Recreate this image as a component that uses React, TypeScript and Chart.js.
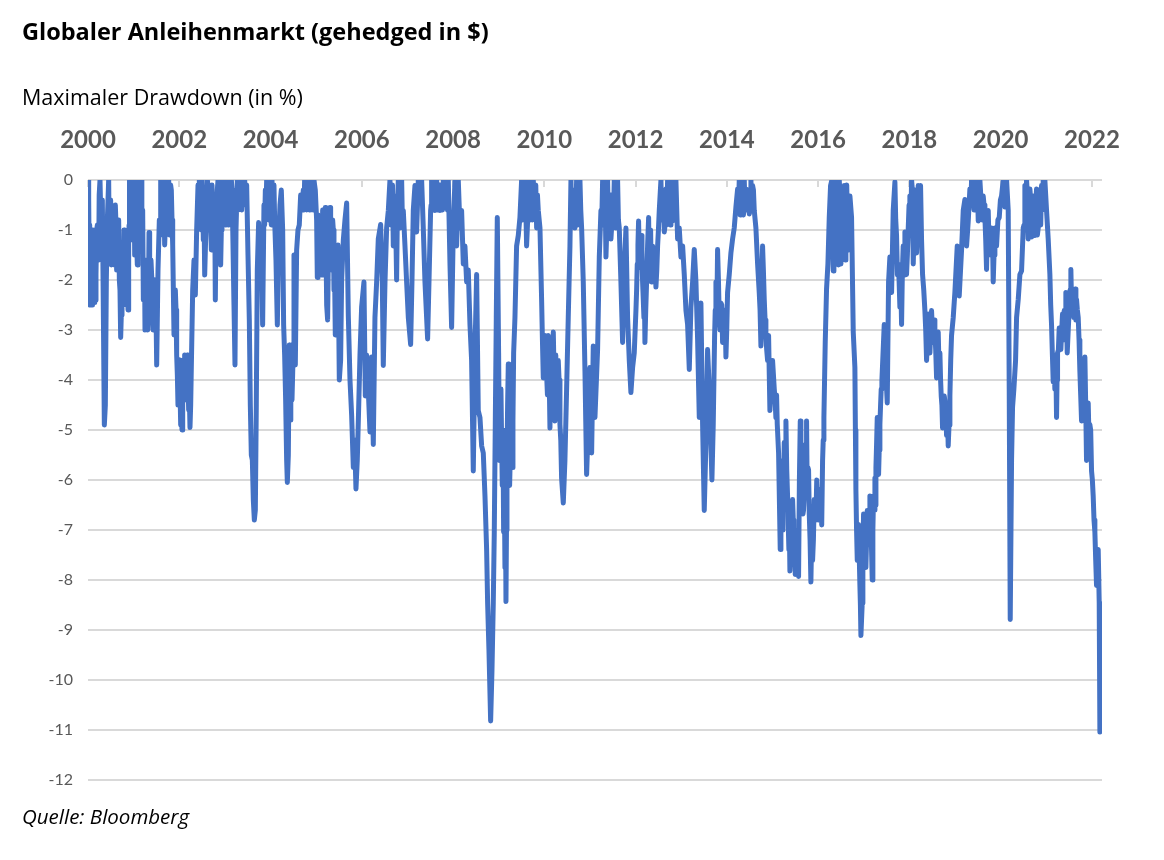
import React, { useEffect, useRef } from "react";
import { Chart, registerables } from "chart.js";

Chart.register(...registerables);

const TITLE = "Globaler Anleihenmarkt (gehedged in $)";
const SUBTITLE = "Maximaler Drawdown (in %)";
const SOURCE = "Quelle: Bloomberg";

const yearTicks = [2000, 2002, 2004, 2006, 2008, 2010, 2012, 2014, 2016, 2018, 2020, 2022];
const valueTicks = [0, -1, -2, -3, -4, -5, -6, -7, -8, -9, -10, -11, -12];

// 2000 - mid 2005
const datesA = [
  2000.000, 2000.037, 2000.051, 2000.066, 2000.088, 2000.110, 2000.132, 2000.153, 2000.175, 2000.205,
  2000.234, 2000.263, 2000.292, 2000.314, 2000.336, 2000.358, 2000.380, 2000.402, 2000.424, 2000.453,
  2000.482, 2000.511, 2000.541, 2000.570, 2000.599, 2000.628, 2000.658, 2000.687, 2000.716, 2000.745,
  2000.774, 2000.804, 2000.833, 2000.862, 2000.891, 2000.921, 2000.942, 2000.972, 2000.993, 2001.023,
  2001.052, 2001.081, 2001.110, 2001.140, 2001.169, 2001.198, 2001.227, 2001.249, 2001.278, 2001.308,
  2001.337, 2001.366, 2001.395, 2001.425, 2001.454, 2001.483, 2001.505, 2001.534, 2001.563, 2001.593,
  2001.622, 2001.651, 2001.680, 2001.709, 2001.739, 2001.768, 2001.797, 2001.826, 2001.856, 2001.885,
  2001.914, 2001.943, 2001.972, 2002.002, 2002.031, 2002.060, 2002.089, 2002.118, 2002.148, 2002.177,
  2002.206, 2002.235, 2002.265, 2002.294, 2002.323, 2002.352, 2002.381, 2002.411, 2002.440, 2002.469,
  2002.498, 2002.527, 2002.557, 2002.586, 2002.615, 2002.644, 2002.673, 2002.703, 2002.732, 2002.761,
  2002.790, 2002.820, 2002.849, 2002.878, 2002.907, 2002.936, 2002.966, 2002.995, 2003.024, 2003.053,
  2003.082, 2003.112, 2003.141, 2003.170, 2003.199, 2003.221, 2003.243, 2003.272, 2003.309, 2003.345,
  2003.389, 2003.433, 2003.477, 2003.506, 2003.535, 2003.557, 2003.579, 2003.601, 2003.623, 2003.645,
  2003.667, 2003.688, 2003.710, 2003.739, 2003.769, 2003.798, 2003.827, 2003.856, 2003.886, 2003.915,
  2003.944, 2003.973, 2004.002, 2004.032, 2004.061, 2004.090, 2004.119, 2004.149, 2004.178, 2004.207,
  2004.236, 2004.266, 2004.287, 2004.309, 2004.331, 2004.353, 2004.368, 2004.390, 2004.411, 2004.433,
  2004.455, 2004.484, 2004.514, 2004.543, 2004.572, 2004.601, 2004.630, 2004.660, 2004.689, 2004.718,
  2004.747, 2004.777, 2004.806, 2004.835, 2004.864, 2004.893, 2004.923, 2004.952, 2004.981, 2005.010,
  2005.025, 2005.054, 2005.083, 2005.113, 2005.142, 2005.171, 2005.200, 2005.230, 2005.251, 2005.273,
  2005.303, 2005.332, 2005.361, 2005.390, 2005.419, 2005.449, 2005.478, 2005.507, 2005.536,
];
const drawdownA = [
  0, -0.9, -1.4, -2.4, -2.5, -1.5, -2.45, -1.0, -1.9, -0.9,
  -1.6, 0, -1.2, -0.4, -2.6, -4.9, -4.5, -2.0, -0.8, 0,
  -0.5, -1.7, -0.8, -1.6, -0.5, -1.8, -1.0, -2.0, -3.15, -1.3,
  -2.5, -1.3, -2.5, -1.9, -1.2, -0.2, 0, -1.2, 0, -1.5,
  -0.3, -1.7, 0, -1.0, 0, -0.6, -1.7, -3.0, -2.1, -3.0,
  -1.05, -2.6, -1.9, -3.0, -2.0, -2.6, -3.7, -1.8, -0.8, 0,
  -0.9, 0, -1.3, 0, -0.6, 0, -0.9, -0.2, -1.3, -3.1,
  -2.2, -3.5, -4.5, -3.6, -4.9, -5.0, -3.6, -3.5, -4.4, -3.5,
  -4.6, -4.95, -3.7, -2.2, -1.6, -2.3, -1.0, -0.1, 0, -0.8,
  0, -1.2, -1.9, -0.9, 0, -1.0, -0.3, -1.4, -0.5, -1.2,
  -2.4, -0.6, 0, -1.2, -1.7, -0.3, 0, -0.8, -0.2, -0.8,
  0, -0.6, 0, -0.9, -2.5, -3.7, -1.0, 0, -0.5, 0,
  -0.2, 0, -0.1, -1.5, -2.8, -4.5, -5.5, -5.6, -6.4, -6.8,
  -6.6, -4.5, -1.8, -0.85, -1.5, -1.0, -2.9, -0.5, -0.2, 0,
  -0.3, 0, -0.5, 0, -0.4, -0.8, -1.6, -2.9, -1.2, -0.5,
  -0.2, -1.0, -2.9, -3.5, -4.4, -5.6, -6.05, -5.5, -3.3, -4.8,
  -3.3, -3.9, -1.5, -3.7, -1.4, -1.0, -0.9, -0.3, -0.6, -0.2,
  0, -0.1, -0.2, 0, -0.3, 0, -0.4, 0, -0.2, -0.8,
  -1.95, -1.3, -0.8, -1.9, -0.6, -1.9, -0.55, -2.5, -2.8, -1.0,
  -0.55, -1.8, -0.8, -2.2, -3.1, -2.5, -1.3, -4.0, -3.6,
];

// mid 2005 - early 2011
const datesB = [
  2005.558, 2005.595, 2005.631, 2005.668, 2005.704, 2005.741, 2005.777, 2005.814, 2005.843, 2005.872,
  2005.901, 2005.930, 2005.960, 2005.996, 2006.047, 2006.077, 2006.106, 2006.142, 2006.179, 2006.215,
  2006.252, 2006.288, 2006.325, 2006.361, 2006.413, 2006.449, 2006.471, 2006.508, 2006.544, 2006.581,
  2006.617, 2006.654, 2006.690, 2006.727, 2006.763, 2006.800, 2006.836, 2006.873, 2006.909, 2006.946,
  2006.982, 2007.019, 2007.070, 2007.099, 2007.128, 2007.165, 2007.201, 2007.238, 2007.274, 2007.311,
  2007.347, 2007.384, 2007.420, 2007.442, 2007.472, 2007.508, 2007.530, 2007.567, 2007.603, 2007.640,
  2007.676, 2007.713, 2007.750, 2007.786, 2007.822, 2007.859, 2007.895, 2007.932, 2007.968, 2008.005,
  2008.041, 2008.078, 2008.114, 2008.151, 2008.187, 2008.224, 2008.260, 2008.297, 2008.333, 2008.370,
  2008.406, 2008.443, 2008.479, 2008.516, 2008.552, 2008.589, 2008.626, 2008.662, 2008.699, 2008.735,
  2008.757, 2008.786, 2008.823, 2008.852, 2008.881, 2008.903, 2008.925, 2008.947, 2008.969, 2008.998,
  2009.020, 2009.049, 2009.078, 2009.108, 2009.137, 2009.159, 2009.181, 2009.210, 2009.239, 2009.268,
  2009.297, 2009.327, 2009.356, 2009.392, 2009.429, 2009.465, 2009.502, 2009.538, 2009.575, 2009.611,
  2009.648, 2009.684, 2009.721, 2009.757, 2009.794, 2009.831, 2009.867, 2009.904, 2009.940, 2009.977,
  2010.013, 2010.050, 2010.086, 2010.123, 2010.159, 2010.196, 2010.232, 2010.269, 2010.305, 2010.342,
  2010.378, 2010.415, 2010.451, 2010.488, 2010.524, 2010.561, 2010.583, 2010.634, 2010.670, 2010.707,
  2010.744, 2010.780, 2010.817, 2010.853, 2010.890, 2010.926, 2010.963, 2010.999, 2011.036, 2011.072,
  2011.109,
];
const drawdownB = [
  -2.0, -1.2, -0.8, -0.46, -2.7, -4.0, -4.7, -5.75, -5.2, -6.18,
  -5.6, -4.6, -3.5, -2.54, -2.04, -4.32, -3.5, -4.2, -5.04, -3.54,
  -5.29, -2.75, -2.04, -1.18, -0.89, -2.04, -3.71, -2.04, -0.96, -0.61,
  0, -0.4, -1.32, -0.32, -2.0, 0, -0.96, 0, -0.61, -1.32,
  -2.04, -2.75, -3.29, -2.04, -0.61, -0.11, -1.04, 0, -0.25, 0,
  -0.96, -2.04, -2.75, -3.18, -2.04, -0.61, 0, -0.3, -0.61, 0,
  -0.3, -0.61, -0.2, 0, -0.3, -0.46, 0, -1.68, -2.95, -0.96,
  0, -1.32, 0, -0.96, -0.61, -1.68, -1.32, -2.04, -1.8, -2.89,
  -3.61, -5.82, -3.46, -1.89, -4.61, -4.75, -5.32, -5.46, -6.32, -7.39,
  -8.46, -9.39, -10.82, -9.82, -8.46, -7.04, -4.89, -2.75, -0.75, -3.46,
  -5.61, -4.18, -6.11, -7.04, -7.75, -8.43, -5.61, -3.68, -6.11, -4.89,
  -5.75, -3.46, -2.75, -1.32, -1.11, -0.75, 0, -0.32, 0, -1.32,
  -0.46, 0, -0.39, 0, -0.61, -0.96, -0.61, -0.96, -2.39, -3.96,
  -3.11, -3.89, -3.11, -4.96, -4.04, -3.04, -4.82, -4.18, -3.61, -4.89,
  -5.96, -6.46, -5.61, -4.18, -2.75, -1.32, 0, -0.61, -0.96, 0,
  -0.61, 0, -0.96, -2.04, -3.82, -5.89, -4.89, -3.75, -5.46, -3.32,
  -4.75,
];

// early 2011 - mid 2016
const datesC = [
  2011.167, 2011.204, 2011.240, 2011.277, 2011.313, 2011.350, 2011.386, 2011.423, 2011.459, 2011.496,
  2011.532, 2011.569, 2011.605, 2011.642, 2011.678, 2011.715, 2011.751, 2011.788, 2011.824, 2011.861,
  2011.897, 2011.934, 2011.970, 2012.007, 2012.036, 2012.065, 2012.095, 2012.124, 2012.153, 2012.182,
  2012.204, 2012.241, 2012.285, 2012.314, 2012.343, 2012.372, 2012.409, 2012.445, 2012.482, 2012.518,
  2012.555, 2012.591, 2012.628, 2012.664, 2012.701, 2012.737, 2012.774, 2012.810, 2012.847, 2012.883,
  2012.920, 2012.956, 2012.993, 2013.030, 2013.066, 2013.103, 2013.139, 2013.176, 2013.212, 2013.249,
  2013.285, 2013.322, 2013.358, 2013.395, 2013.431, 2013.468, 2013.504, 2013.541, 2013.577, 2013.614,
  2013.643, 2013.672, 2013.701, 2013.731, 2013.760, 2013.796, 2013.833, 2013.869, 2013.906, 2013.942,
  2013.979, 2014.015, 2014.052, 2014.088, 2014.125, 2014.161, 2014.198, 2014.235, 2014.271, 2014.308,
  2014.344, 2014.381, 2014.417, 2014.454, 2014.490, 2014.527, 2014.563, 2014.600, 2014.636, 2014.673,
  2014.709, 2014.746, 2014.782, 2014.819, 2014.855, 2014.892, 2014.914, 2014.943, 2014.972, 2015.001,
  2015.038, 2015.074, 2015.104, 2015.133, 2015.169, 2015.199, 2015.228, 2015.257, 2015.294, 2015.330,
  2015.359, 2015.381, 2015.410, 2015.440, 2015.469, 2015.498, 2015.535, 2015.571, 2015.608, 2015.637,
  2015.666, 2015.695, 2015.724, 2015.746, 2015.775, 2015.805, 2015.841, 2015.878, 2015.914, 2015.951,
  2015.987, 2016.024, 2016.060, 2016.097, 2016.126, 2016.155, 2016.184, 2016.214, 2016.243, 2016.272,
  2016.301, 2016.331, 2016.360, 2016.389, 2016.426, 2016.462, 2016.499, 2016.535, 2016.572, 2016.608,
  2016.645,
];
const drawdownC = [
  -3.39, -1.54, -0.61, 0, -0.75, -1.54, 0, -0.61, -1.18, -0.32,
  0, -0.96, 0, -0.96, -2.04, -3.25, -1.82, -0.96, -2.75, -3.61,
  -4.25, -3.75, -3.46, -2.61, -1.68, -0.82, -1.75, -1.11, -2.04, -2.75,
  -3.25, -2.04, -0.75, -1.46, -2.04, -1.32, -1.89, -2.14, -1.32, -0.61,
  0, -0.61, -1.04, -0.18, 0, -0.32, 0, -0.82, -0.61, 0,
  -1.18, -0.96, -1.54, -1.32, -1.89, -2.61, -2.89, -3.79, -2.54, -2.04,
  -1.39, -2.04, -3.18, -4.75, -2.46, -4.89, -6.61, -5.25, -3.39, -4.18,
  -5.04, -6.0, -4.89, -3.11, -2.04, -1.39, -2.75, -2.46, -3.25, -2.75,
  -3.54, -2.25, -1.89, -1.46, -1.18, -0.96, -0.54, -0.18, 0, -0.32,
  -0.61, 0, -0.18, -0.61, -0.68, 0, -0.11, -0.61, -0.96, -1.68,
  -2.25, -3.32, -1.32, -2.39, -3.11, -3.61, -3.11, -4.61, -3.89, -3.61,
  -4.18, -4.75, -4.89, -5.46, -7.39, -6.32, -5.61, -5.25, -4.82, -6.32,
  -7.39, -7.82, -7.04, -6.39, -7.39, -7.89, -7.04, -7.93, -4.82, -5.96,
  -6.68, -6.32, -5.61, -4.82, -5.75, -6.68, -8.04, -7.61, -6.39, -6.75,
  -6.54, -6.32, -6.18, -5.61, -4.75, -3.25, -2.18, -1.68, -0.75, -0.11,
  0, -1.82, -0.61, 0, -0.61, 0, -1.68, -0.96, -0.11, -0.61,
  -0.96,
];

// mid 2016 - 2022
const datesD = [
  2016.696, 2016.732, 2016.769, 2016.805, 2016.827, 2016.857, 2016.886, 2016.915, 2016.937, 2016.966,
  2016.995, 2017.025, 2017.046, 2017.076, 2017.105, 2017.134, 2017.156, 2017.185, 2017.214, 2017.244,
  2017.266, 2017.295, 2017.324, 2017.353, 2017.382, 2017.412, 2017.448, 2017.485, 2017.514, 2017.543,
  2017.572, 2017.609, 2017.645, 2017.682, 2017.718, 2017.755, 2017.791, 2017.828, 2017.864, 2017.901,
  2017.937, 2017.974, 2018.010, 2018.047, 2018.084, 2018.120, 2018.157, 2018.193, 2018.244, 2018.288,
  2018.339, 2018.376, 2018.412, 2018.449, 2018.485, 2018.522, 2018.558, 2018.595, 2018.631, 2018.668,
  2018.697, 2018.726, 2018.763, 2018.814, 2018.850, 2018.887, 2018.923, 2018.960, 2018.996, 2019.048,
  2019.091, 2019.143, 2019.179, 2019.216, 2019.252, 2019.289, 2019.325, 2019.362, 2019.398, 2019.435,
  2019.471, 2019.508, 2019.544, 2019.581, 2019.617, 2019.654, 2019.690, 2019.727, 2019.763, 2019.800,
  2019.836, 2019.873, 2019.909, 2019.968, 2020.019, 2020.056, 2020.092, 2020.129, 2020.165, 2020.187,
  2020.209, 2020.238, 2020.260, 2020.289, 2020.326, 2020.348, 2020.384, 2020.421, 2020.457, 2020.494,
  2020.530, 2020.567, 2020.603, 2020.640, 2020.676, 2020.713, 2020.749, 2020.786, 2020.822, 2020.859,
  2020.895, 2020.932, 2020.968, 2021.005, 2021.041, 2021.078, 2021.114, 2021.151, 2021.187, 2021.224,
  2021.246, 2021.282, 2021.319, 2021.355, 2021.392, 2021.428, 2021.458, 2021.501, 2021.538, 2021.575,
  2021.604, 2021.633, 2021.662, 2021.699, 2021.735, 2021.772, 2021.808, 2021.845, 2021.881, 2021.918,
  2021.954, 2021.991, 2022.027, 2022.064, 2022.100, 2022.137, 2022.159, 2022.174,
];
const drawdownD = [
  -0.32, -0.75, -3.04, -3.75, -6.18, -7.61, -6.89, -8.11, -9.11, -8.46,
  -6.68, -7.39, -7.75, -6.61, -7.25, -6.32, -7.04, -8.0, -6.32, -5.96,
  -5.75, -4.75, -5.89, -4.89, -4.18, -3.68, -2.89, -3.89, -4.46, -2.04,
  -1.54, -2.25, -0.61, -0.04, -1.11, -1.68, -2.54, -2.89, -1.32, -1.04,
  -1.89, -0.96, -0.32, 0, -1.68, -0.61, -1.46, -0.11, -0.11, -1.89,
  -2.61, -3.61, -2.68, -3.46, -2.61, -3.25, -3.04, -3.96, -3.04, -3.46,
  -4.32, -4.96, -4.32, -5.11, -5.32, -4.32, -3.11, -2.75, -2.25, -1.32,
  -2.32, -1.39, -0.61, -0.39, -1.32, -0.82, -0.18, 0, -0.32, 0,
  -0.46, -0.82, 0, -0.54, -0.32, -0.75, -1.79, -0.61, -1.32, -0.96,
  -2.04, -0.96, -1.32, -0.75, -0.32, 0, -0.54, 0, -0.61, -4.18,
  -8.79, -5.61, -4.54, -4.18, -3.61, -2.75, -2.39, -1.89, -1.82, -0.96,
  -0.11, 0, -1.18, -0.18, -1.14, -0.32, -1.11, -0.18, -0.96, -0.61,
  -0.11, 0, 0, -0.61, -1.18, -1.89, -2.89, -4.04, -4.18, -4.75,
  -3.46, -2.96, -3.39, -2.68, -2.61, -2.25, -3.46, -2.61, -1.79, -2.32,
  -2.75, -2.18, -2.39, -2.75, -3.82, -4.82, -4.18, -3.54, -5.61, -4.46,
  -4.89, -5.82, -6.32, -7.04, -8.11, -7.39, -8.46, -11.04,
];

// extra weekly readings inside the dense near-zero stretches
const datesDense = [
  2000.900, 2000.910, 2000.930, 2000.950, 2000.960, 2000.980, 2001.000, 2001.010, 2001.035, 2001.045,
  2001.065, 2001.095, 2001.125, 2001.155, 2001.180,
  2001.578, 2001.607, 2001.636, 2001.665, 2001.695, 2001.724, 2001.753, 2001.782, 2001.811, 2001.841,
  2002.425, 2002.455, 2002.484, 2002.513, 2002.542, 2002.600, 2002.630, 2002.659, 2002.688, 2002.717,
  2002.747, 2002.776, 2002.805, 2002.834, 2002.864, 2002.893, 2002.922, 2002.951, 2002.980, 2003.010,
  2003.039, 2003.068, 2003.097, 2003.127, 2003.156,
  2003.290, 2003.327, 2003.367, 2003.411, 2003.455,
  2003.871, 2003.900, 2003.930, 2003.959, 2003.988, 2004.017, 2004.046, 2004.075,
  2004.733, 2004.762, 2004.791, 2004.820, 2004.850, 2004.879, 2004.908, 2004.937, 2004.966,
  2006.635, 2006.672, 2006.708, 2006.745, 2006.781, 2006.818, 2006.854, 2006.891,
  2007.519, 2007.548, 2007.585, 2007.621, 2007.658, 2007.695, 2007.731, 2007.768, 2007.804, 2007.840,
  2007.877,
  2009.520, 2009.556, 2009.593, 2009.630, 2009.666, 2009.703, 2009.739, 2009.775, 2009.812, 2009.849,
  2010.600, 2010.617, 2010.652, 2010.690, 2010.725, 2010.762, 2010.798,
  2011.259, 2011.295, 2011.331, 2011.368, 2011.404, 2011.441, 2011.477, 2011.514, 2011.550, 2011.587,
  2011.623,
  2012.573, 2012.609, 2012.646, 2012.682, 2012.719, 2012.755, 2012.792, 2012.828, 2012.865,
  2014.253, 2014.290, 2014.326, 2014.363, 2014.399, 2014.436, 2014.472, 2014.509, 2014.545, 2014.582,
  2016.316, 2016.345, 2016.375, 2016.407, 2016.444, 2016.480, 2016.517, 2016.553, 2016.590, 2016.626,
  2016.670,
  2018.030, 2018.065, 2018.102, 2018.138, 2018.175, 2018.218, 2018.266,
  2019.344, 2019.380, 2019.417, 2019.453, 2019.490, 2019.526, 2019.563, 2019.599,
  2020.512, 2020.548, 2020.585, 2020.621, 2020.658, 2020.694, 2020.731, 2020.767, 2020.804, 2020.840,
  2020.877, 2020.913, 2020.950, 2020.986,
];
const drawdownDense = [
  -0.9, 0, -1.1, -0.2, -1.0, 0, -1.1, 0, -1.3, 0,
  -1.2, -0.4, -1.2, -0.2, -1.1,
  -1.1, -0.3, -1.0, -0.2, -0.9, -1.0, -0.2, -1.1, -0.1, -0.8,
  -0.9, -0.2, -1.0, -0.3, -0.6, -0.8, -0.1, -0.5, -0.9, -0.1,
  -0.9, -0.4, -1.0, -0.2, -0.9, -0.5, -1.0, -0.7, -0.1, -0.9,
  -0.3, -0.9, -0.1, -0.8, -0.2,
  -0.6, -0.3, -0.6, -0.5, -0.4,
  -0.9, -0.6, -0.7, -0.8, -0.1, -0.9, -0.6, -0.1,
  -0.6, -0.5, -0.6, -0.4, -0.6, -0.5, -0.2, -0.6, -0.1,
  -0.9, -0.1, -0.8, -1.0, -0.5, -0.2, -0.5, -0.9,
  -0.5, -0.6, -0.1, -0.5, -0.6, -0.1, -0.4, -0.6, -0.5, -0.1,
  -0.6,
  -0.8, -0.7, -0.5, -0.9, -0.8, -0.1, -0.8, -0.3, -0.1, -0.3,
  -0.9, -0.2, -0.2, -0.8, -0.9, -0.3, -0.6,
  -0.8, -0.9, -0.2, -1.0, -0.9, -0.3, -0.9, -0.8, -0.5, -0.3,
  -0.8,
  -0.8, -0.3, -0.9, -0.7, -0.6, -0.9, -0.3, -0.2, -0.8,
  -0.6, -0.7, -0.1, -0.7, -0.6, -0.2, -0.2, -0.6, -0.6, -0.2,
  -1.0, -0.3, -1.5, -1.6, -1.7, -0.3, -0.2, -1.5, -1.6, -0.1,
  -1.4,
  -0.9, -0.2, -1.0, -0.2, -0.9, -0.8, -1.2,
  -0.5, -0.1, -0.6, -0.5, -0.1, -0.6, -0.3, -0.8,
  -0.9, -0.9, -0.3, -1.0, -0.4, -0.9, -1.0, -0.5, -1.1, -0.2,
  -0.9, -0.6, -0.5, -0.3,
];

// extra weekly readings inside the dense drawdown stretches
const datesDeep = [
  2000.010, 2000.020, 2000.030, 2000.045, 2000.058, 2000.075, 2000.080, 2000.098, 2000.120, 2000.142,
  2000.165, 2000.190, 2000.220, 2000.245,
  2000.467, 2000.496, 2000.526, 2000.555, 2000.585, 2000.614, 2000.643, 2000.672, 2000.701, 2000.730,
  2000.760, 2000.789, 2000.818, 2000.848, 2000.877,
  2001.213, 2001.238, 2001.263, 2001.293, 2001.322, 2001.351, 2001.380, 2001.410, 2001.439, 2001.468,
  2001.494,
  2001.900, 2001.929, 2001.958, 2001.987, 2002.016, 2002.045, 2002.075, 2002.104, 2002.133, 2002.162,
  2002.191, 2002.220, 2002.250,
  2004.422, 2004.444, 2004.470, 2004.499, 2004.528,
  2005.040, 2005.069, 2005.098, 2005.127, 2005.157, 2005.186, 2005.215, 2005.288, 2005.317, 2005.346,
  2005.376, 2005.405, 2005.434, 2005.463,
  2009.010, 2009.035, 2009.064, 2009.093, 2009.122, 2009.148, 2009.170, 2009.195, 2009.225, 2009.254,
  2009.283, 2009.312,
  2009.958, 2009.995, 2010.032, 2010.068, 2010.104, 2010.141, 2010.177, 2010.214, 2010.250, 2010.287,
  2010.323, 2010.360,
  2012.022, 2012.051, 2012.080, 2012.110, 2012.139, 2012.168, 2012.193, 2012.222, 2012.263, 2012.300,
  2012.329, 2012.358, 2012.390, 2012.427, 2012.464, 2012.500,
  2013.745, 2013.778, 2013.815, 2013.851, 2013.888, 2013.924, 2013.961, 2013.997,
  2014.727, 2014.764, 2014.800, 2014.837, 2014.873, 2014.929, 2014.958, 2014.987, 2015.020, 2015.056,
  2015.089,
  2015.184, 2015.213, 2015.243, 2015.276, 2015.312, 2015.345, 2015.370, 2015.396, 2015.425, 2015.455,
  2015.484, 2015.516, 2015.553, 2015.589, 2015.622, 2015.651, 2015.680, 2015.710, 2015.735, 2015.760,
  2015.790, 2015.823, 2015.860, 2015.896, 2015.932, 2015.969, 2016.005, 2016.042, 2016.078, 2016.111,
  2016.816, 2016.842, 2016.871, 2016.900, 2016.926, 2016.951, 2016.980, 2017.010, 2017.035, 2017.061,
  2017.090, 2017.120, 2017.145, 2017.170, 2017.199, 2017.229, 2017.255, 2017.280, 2017.310, 2017.338,
  2017.368, 2017.397,
  2017.700, 2017.737, 2017.773, 2017.810, 2017.846, 2017.883, 2017.919, 2017.955, 2017.992,
  2018.314, 2018.357, 2018.394, 2018.430, 2018.467, 2018.503, 2018.540, 2018.576, 2018.613, 2018.650,
  2018.683, 2018.712, 2018.745, 2018.789, 2018.832, 2018.868, 2018.905,
  2019.635, 2019.672, 2019.708, 2019.745, 2019.781, 2019.818, 2019.854, 2019.891, 2019.939, 2019.994,
  2021.096, 2021.133, 2021.169, 2021.205, 2021.235, 2021.264, 2021.300, 2021.337, 2021.373, 2021.410,
  2021.443, 2021.480, 2021.520, 2021.556, 2021.590, 2021.618, 2021.648, 2021.680, 2021.717, 2021.753,
  2021.790, 2021.826, 2021.863, 2021.900, 2021.936, 2021.972, 2022.009, 2022.045, 2022.082, 2022.118,
];
const drawdownDeep = [
  -1.3, -0.4, -2.0, -2.5, -1.0, -1.1, -2.4, -1.0, -2.3, -1.0,
  -2.4, -1.0, -1.5, -0.3,
  -1.5, -0.4, -1.3, -0.6, -1.7, -0.9, -1.7, -0.8, -2.2, -2.7,
  -1.6, -1.0, -2.4, -1.4, -2.6,
  -2.4, -1.6, -2.8, -1.8, -2.7, -2.0, -1.6, -2.3, -2.7, -2.2,
  -2.9,
  -3.0, -2.6, -3.9, -4.2, -4.2, -4.6, -4.1, -4.2, -3.7, -4.2,
  -4.0, -4.3, -4.5,
  -3.6, -4.2, -4.4, -3.3, -2.4,
  -0.7, -1.8, -1.2, -1.5, -1.0, -1.4, -1.3, -1.6, -1.2, -1.5,
  -1.0, -2.0, -2.8, -2.0,
  -4.9, -4.8, -5.2, -5.0, -6.0, -6.6, -7.0, -4.5, -5.0, -5.5,
  -4.4, -4.8,
  -3.2, -3.6, -3.4, -4.3, -3.8, -3.5, -4.2, -3.9, -3.5, -4.5,
  -4.0, -5.2,
  -2.2, -1.3, -1.5, -1.6, -1.4, -2.4, -2.3, -2.6, -1.3, -1.9,
  -1.0, -1.7, -1.6, -1.6, -1.8, -1.0,
  -2.6, -2.8, -2.0, -3.0, -2.5, -3.0, -2.6, -3.0,
  -2.6, -2.5, -1.8, -2.8, -3.4, -3.9, -4.3, -4.2, -3.9, -4.4,
  -4.3,
  -6.5, -7.0, -6.2, -5.5, -5.8, -6.9, -7.0, -7.5, -7.2, -6.8,
  -7.0, -7.5, -7.4, -6.0, -6.5, -5.3, -6.6, -6.0, -5.5, -6.2,
  -5.8, -7.2, -7.0, -7.2, -6.8, -6.0, -6.8, -6.6, -6.9, -5.2,
  -5.0, -7.0, -7.2, -7.5, -8.5, -8.8, -7.5, -7.0, -7.0, -7.2,
  -6.9, -6.8, -6.6, -7.4, -7.0, -6.6, -6.5, -5.3, -5.0, -5.4,
  -4.5, -4.0,
  -0.8, -1.9, -2.0, -2.0, -1.8, -1.9, -1.2, -1.5, -0.5,
  -2.2, -3.0, -3.2, -3.0, -3.0, -3.0, -2.8, -3.4, -3.6, -3.8,
  -4.0, -4.5, -4.8, -4.5, -4.6, -4.9, -3.6,
  -0.5, -1.2, -1.0, -1.3, -1.5, -1.0, -1.5, -1.2, -0.8, -0.4,
  -2.5, -3.5, -3.6, -3.5, -4.0, -3.4, -3.0, -3.0, -3.2, -2.8,
  -2.8, -3.0, -2.2, -2.6, -2.5, -2.6, -2.8, -2.6, -3.2, -4.3,
  -4.5, -4.6, -4.5, -5.0, -5.2, -5.0, -6.0, -6.8, -7.6, -7.8,
];

const dates = [...datesA, ...datesB, ...datesC, ...datesD, ...datesDense, ...datesDeep];
const drawdown = [
  ...drawdownA,
  ...drawdownB,
  ...drawdownC,
  ...drawdownD,
  ...drawdownDense,
  ...drawdownDeep,
];

const FONT_AXIS = "Lato, 'Noto Sans', sans-serif";
const FONT_TEXT = "'Open Sans', 'Noto Sans', sans-serif";
const AXIS_GREY = "#595959";
const GRID_GREY = "#d9d9d9";
const LINE_BLUE = "#4472C4";

const tickMarksPlugin = {
  id: "tickMarks",
  beforeDatasetsDraw(chart: any) {
    const { ctx, chartArea, scales } = chart;
    const xs = scales.x;
    ctx.save();
    ctx.strokeStyle = GRID_GREY;
    ctx.lineWidth = 2;
    for (const t of yearTicks) {
      const px = Math.round(xs.getPixelForValue(t));
      ctx.beginPath();
      ctx.moveTo(px, chartArea.top);
      ctx.lineTo(px, chartArea.top + 7);
      ctx.stroke();
    }
    ctx.restore();
  },
};

function DrawdownChart() {
  const canvasRef = useRef<HTMLCanvasElement | null>(null);

  useEffect(() => {
    if (!canvasRef.current) return;
    const points = dates
      .map((d, i) => ({ x: d, y: drawdown[i] }))
      .sort((a, b) => a.x - b.x);
    const chart = new Chart(canvasRef.current, {
      type: "line",
      data: {
        datasets: [
          {
            label: SUBTITLE,
            data: points,
            borderColor: LINE_BLUE,
            borderWidth: 5,
            pointRadius: 0,
            tension: 0,
            borderJoinStyle: "round",
            borderCapStyle: "round",
            fill: false,
          },
        ],
      },
      options: {
        animation: false,
        responsive: false,
        maintainAspectRatio: false,
        events: [],
        layout: { padding: { top: 120, left: 0, right: 62, bottom: 80 } },
        plugins: {
          legend: { display: false },
          tooltip: { enabled: false },
          title: { display: false },
        },
        scales: {
          x: {
            type: "linear",
            position: "top",
            min: 2000,
            max: 2022.22,
            afterBuildTicks: (s: any) => {
              s.ticks = yearTicks.map((v) => ({ value: v }));
            },
            afterFit: (s: any) => {
              s.height = 60;
            },
            grid: { display: false, drawTicks: false },
            border: { display: false },
            ticks: {
              autoSkip: false,
              maxRotation: 0,
              padding: 25,
              color: AXIS_GREY,
              font: { family: FONT_AXIS, size: 24, weight: "bold" },
              callback: (v: any) => String(v),
            },
          },
          y: {
            type: "linear",
            min: -12,
            max: 0,
            afterBuildTicks: (s: any) => {
              s.ticks = valueTicks.map((v) => ({ value: v }));
            },
            afterFit: (s: any) => {
              s.width = 88;
            },
            grid: { color: GRID_GREY, lineWidth: 2, drawTicks: false },
            border: { display: false },
            ticks: {
              padding: 15,
              color: AXIS_GREY,
              font: { family: FONT_AXIS, size: 16 },
              callback: (v: any) => String(v),
            },
          },
        },
      },
      plugins: [tickMarksPlugin],
    });
    return () => chart.destroy();
  }, []);

  return (
    <canvas
      ref={canvasRef}
      width={1164}
      height={860}
      style={{ position: "absolute", left: 0, top: 0, width: 1164, height: 860 }}
    />
  );
}

export default function App() {
  const textBase: React.CSSProperties = {
    position: "absolute",
    left: 22,
    margin: 0,
    whiteSpace: "nowrap",
    fontFamily: FONT_TEXT,
    color: "#000",
  };
  return (
    <div
      style={{
        position: "absolute",
        left: 0,
        top: 0,
        width: 1164,
        height: 860,
        background: "#fff",
        overflow: "hidden",
      }}
    >
      <DrawdownChart />
      <div style={{ ...textBase, top: 16, fontSize: 23.5, lineHeight: "30px", fontWeight: 700 }}>{TITLE}</div>
      <div style={{ ...textBase, top: 83, fontSize: 21.5, lineHeight: "28px", fontWeight: 400 }}>{SUBTITLE}</div>
      <div style={{ ...textBase, top: 803, fontSize: 20.5, lineHeight: "26px", fontStyle: "italic" }}>{SOURCE}</div>
    </div>
  );
}
